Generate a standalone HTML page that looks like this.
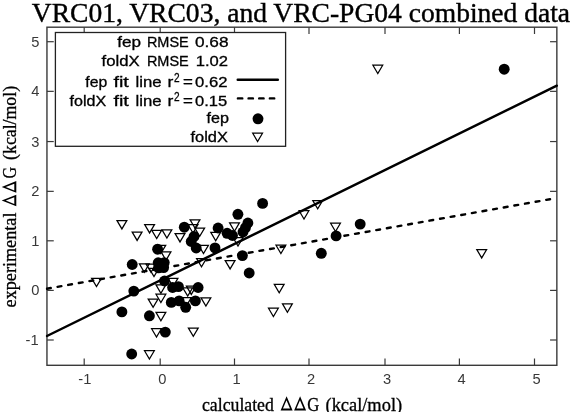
<!DOCTYPE html>
<html><head><meta charset="utf-8"><style>
html,body{margin:0;padding:0;background:#fff;width:575px;height:412px;overflow:hidden}
svg{display:block;will-change:transform}
.s{font-family:"Liberation Sans",sans-serif}
.r{font-family:"Liberation Serif",serif}
</style></head><body>
<svg width="575" height="412" viewBox="0 0 575 412">
<rect x="0" y="0" width="575" height="412" fill="#fff"/>
<text class="r" transform="translate(31.80,21.70) scale(0.9839,1)" font-size="28" fill="#000" stroke="#000" stroke-width="0.4">VRC01, VRC03, and VRC-PG04 combined data</text>
<rect x="46.95" y="27.2" width="509.90000000000003" height="338.1" fill="none" stroke="#3a3a3a" stroke-width="1.4"/>
<line x1="84.2" y1="365.3" x2="84.2" y2="358.5" stroke="#3a3a3a" stroke-width="1.2"/><line x1="84.2" y1="27.2" x2="84.2" y2="34.0" stroke="#3a3a3a" stroke-width="1.2"/><line x1="160.2" y1="365.3" x2="160.2" y2="358.5" stroke="#3a3a3a" stroke-width="1.2"/><line x1="160.2" y1="27.2" x2="160.2" y2="34.0" stroke="#3a3a3a" stroke-width="1.2"/><line x1="234.5" y1="365.3" x2="234.5" y2="358.5" stroke="#3a3a3a" stroke-width="1.2"/><line x1="234.5" y1="27.2" x2="234.5" y2="34.0" stroke="#3a3a3a" stroke-width="1.2"/><line x1="309.0" y1="365.3" x2="309.0" y2="358.5" stroke="#3a3a3a" stroke-width="1.2"/><line x1="309.0" y1="27.2" x2="309.0" y2="34.0" stroke="#3a3a3a" stroke-width="1.2"/><line x1="385.0" y1="365.3" x2="385.0" y2="358.5" stroke="#3a3a3a" stroke-width="1.2"/><line x1="385.0" y1="27.2" x2="385.0" y2="34.0" stroke="#3a3a3a" stroke-width="1.2"/><line x1="459.4" y1="365.3" x2="459.4" y2="358.5" stroke="#3a3a3a" stroke-width="1.2"/><line x1="459.4" y1="27.2" x2="459.4" y2="34.0" stroke="#3a3a3a" stroke-width="1.2"/><line x1="534.5" y1="365.3" x2="534.5" y2="358.5" stroke="#3a3a3a" stroke-width="1.2"/><line x1="534.5" y1="27.2" x2="534.5" y2="34.0" stroke="#3a3a3a" stroke-width="1.2"/><line x1="46.95" y1="340.0" x2="53.75" y2="340.0" stroke="#3a3a3a" stroke-width="1.2"/><line x1="556.85" y1="340.0" x2="550.0500000000001" y2="340.0" stroke="#3a3a3a" stroke-width="1.2"/><line x1="46.95" y1="290.4" x2="53.75" y2="290.4" stroke="#3a3a3a" stroke-width="1.2"/><line x1="556.85" y1="290.4" x2="550.0500000000001" y2="290.4" stroke="#3a3a3a" stroke-width="1.2"/><line x1="46.95" y1="240.8" x2="53.75" y2="240.8" stroke="#3a3a3a" stroke-width="1.2"/><line x1="556.85" y1="240.8" x2="550.0500000000001" y2="240.8" stroke="#3a3a3a" stroke-width="1.2"/><line x1="46.95" y1="191.35" x2="53.75" y2="191.35" stroke="#3a3a3a" stroke-width="1.2"/><line x1="556.85" y1="191.35" x2="550.0500000000001" y2="191.35" stroke="#3a3a3a" stroke-width="1.2"/><line x1="46.95" y1="141.55" x2="53.75" y2="141.55" stroke="#3a3a3a" stroke-width="1.2"/><line x1="556.85" y1="141.55" x2="550.0500000000001" y2="141.55" stroke="#3a3a3a" stroke-width="1.2"/><line x1="46.95" y1="91.35" x2="53.75" y2="91.35" stroke="#3a3a3a" stroke-width="1.2"/><line x1="556.85" y1="91.35" x2="550.0500000000001" y2="91.35" stroke="#3a3a3a" stroke-width="1.2"/><line x1="46.95" y1="41.7" x2="53.75" y2="41.7" stroke="#3a3a3a" stroke-width="1.2"/><line x1="556.85" y1="41.7" x2="550.0500000000001" y2="41.7" stroke="#3a3a3a" stroke-width="1.2"/>
<text class="s" transform="translate(78.36,383.70) scale(1.0500,1)" font-size="14" fill="#383838">-1</text><text class="s" transform="translate(158.32,383.70) scale(1.0500,1)" font-size="14" fill="#383838">0</text><text class="s" transform="translate(232.62,383.70) scale(1.0500,1)" font-size="14" fill="#383838">1</text><text class="s" transform="translate(307.12,383.70) scale(1.0500,1)" font-size="14" fill="#383838">2</text><text class="s" transform="translate(383.12,383.70) scale(1.0500,1)" font-size="14" fill="#383838">3</text><text class="s" transform="translate(457.52,383.70) scale(1.0500,1)" font-size="14" fill="#383838">4</text><text class="s" transform="translate(532.62,383.70) scale(1.0500,1)" font-size="14" fill="#383838">5</text><text class="s" transform="translate(25.52,345.00) scale(1.0500,1)" font-size="14" fill="#383838">-1</text><text class="s" transform="translate(31.24,295.40) scale(1.0500,1)" font-size="14" fill="#383838">0</text><text class="s" transform="translate(31.24,245.80) scale(1.0500,1)" font-size="14" fill="#383838">1</text><text class="s" transform="translate(31.24,196.35) scale(1.0500,1)" font-size="14" fill="#383838">2</text><text class="s" transform="translate(31.24,146.55) scale(1.0500,1)" font-size="14" fill="#383838">3</text><text class="s" transform="translate(31.24,96.35) scale(1.0500,1)" font-size="14" fill="#383838">4</text><text class="s" transform="translate(31.24,46.70) scale(1.0500,1)" font-size="14" fill="#383838">5</text>
<text class="r" transform="translate(202.00,410.60) scale(0.9857,1)" font-size="18" fill="#000" stroke="#000" stroke-width="0.3">calculated</text><path d="M286.60,396.30L280.60,410.40L292.60,410.40ZM286.49,400.13L290.01,408.40L282.97,408.40Z" fill="#000" fill-rule="evenodd"/><path d="M300.10,396.30L294.10,410.40L306.10,410.40ZM299.99,400.13L303.51,408.40L296.47,408.40Z" fill="#000" fill-rule="evenodd"/><text class="r" transform="translate(307.30,410.60) scale(0.9304,1)" font-size="18" fill="#000" stroke="#000" stroke-width="0.3">G</text><text class="r" transform="translate(325.50,410.60) scale(1.0231,1)" font-size="18" fill="#000" stroke="#000" stroke-width="0.3">(kcal/mol)</text>
<g transform="translate(15.6,0) rotate(-90)"><text class="r" transform="translate(-307.40,0.00) scale(1.0100,1)" font-size="18" fill="#000" stroke="#000" stroke-width="0.3">experimental</text><path d="M-200.50,-13.90L-206.30,0.70L-194.70,0.70ZM-200.61,-9.84L-197.22,-1.30L-204.00,-1.30Z" fill="#000" fill-rule="evenodd"/><path d="M-186.95,-13.90L-192.80,0.70L-181.10,0.70ZM-187.06,-9.87L-183.63,-1.30L-190.49,-1.30Z" fill="#000" fill-rule="evenodd"/><text class="r" transform="translate(-178.60,0.00) scale(0.8920,1)" font-size="18" fill="#000" stroke="#000" stroke-width="0.3">G</text><text class="r" transform="translate(-159.90,0.00) scale(0.9884,1)" font-size="18" fill="#000" stroke="#000" stroke-width="0.3">(kcal/mol)</text></g>
<clipPath id="c"><rect x="45.650000000000006" y="27.2" width="512.5" height="338.1"/></clipPath>
<g clip-path="url(#c)"><line x1="46.95" y1="336.0" x2="556.85" y2="85.7" stroke="#000" stroke-width="2.5" stroke-linecap="round"/><line x1="46.95" y1="288.7" x2="556.85" y2="198.0" stroke="#000" stroke-width="2.4" stroke-dasharray="3.86 6.93" stroke-dashoffset="0" stroke-linecap="round"/></g>
<circle cx="504.2" cy="69.2" r="5.45" fill="#000"/><circle cx="262.6" cy="203.4" r="5.45" fill="#000"/><circle cx="237.9" cy="214.3" r="5.45" fill="#000"/><circle cx="247.9" cy="223.0" r="5.45" fill="#000"/><circle cx="245.5" cy="227.6" r="5.45" fill="#000"/><circle cx="243.0" cy="232.0" r="5.45" fill="#000"/><circle cx="232.5" cy="235.5" r="5.45" fill="#000"/><circle cx="227.1" cy="233.3" r="5.45" fill="#000"/><circle cx="218.1" cy="228" r="5.45" fill="#000"/><circle cx="184.3" cy="227.2" r="5.45" fill="#000"/><circle cx="194" cy="236.5" r="5.45" fill="#000"/><circle cx="191.2" cy="241.5" r="5.45" fill="#000"/><circle cx="196.2" cy="248" r="5.45" fill="#000"/><circle cx="215.0" cy="247.9" r="5.45" fill="#000"/><circle cx="242.4" cy="255.6" r="5.45" fill="#000"/><circle cx="249.2" cy="273" r="5.45" fill="#000"/><circle cx="157.6" cy="249.2" r="5.45" fill="#000"/><circle cx="158.2" cy="262.8" r="5.45" fill="#000"/><circle cx="164.2" cy="262.6" r="5.45" fill="#000"/><circle cx="158.6" cy="267.8" r="5.45" fill="#000"/><circle cx="163.6" cy="267.6" r="5.45" fill="#000"/><circle cx="132.2" cy="264.5" r="5.45" fill="#000"/><circle cx="133.8" cy="291.1" r="5.45" fill="#000"/><circle cx="164.5" cy="281" r="5.45" fill="#000"/><circle cx="172.6" cy="287.5" r="5.45" fill="#000"/><circle cx="178.4" cy="286.6" r="5.45" fill="#000"/><circle cx="198.1" cy="287.5" r="5.45" fill="#000"/><circle cx="171.3" cy="302.4" r="5.45" fill="#000"/><circle cx="179.1" cy="300.9" r="5.45" fill="#000"/><circle cx="185.7" cy="307.3" r="5.45" fill="#000"/><circle cx="195.4" cy="300.9" r="5.45" fill="#000"/><circle cx="121.9" cy="311.9" r="5.45" fill="#000"/><circle cx="149.4" cy="315.8" r="5.45" fill="#000"/><circle cx="165.3" cy="332.1" r="5.45" fill="#000"/><circle cx="131.7" cy="354" r="5.45" fill="#000"/><circle cx="360.2" cy="224.1" r="5.45" fill="#000"/><circle cx="336.1" cy="235.9" r="5.45" fill="#000"/><circle cx="321.3" cy="253.3" r="5.45" fill="#000"/>
<path d="M372.90,65.20L382.70,65.20L377.80,73.50Z" fill="none" stroke="#000" stroke-width="1.25" stroke-linejoin="miter"/><path d="M476.80,249.60L486.60,249.60L481.70,257.90Z" fill="none" stroke="#000" stroke-width="1.25" stroke-linejoin="miter"/><path d="M117.00,220.60L126.80,220.60L121.90,228.90Z" fill="none" stroke="#000" stroke-width="1.25" stroke-linejoin="miter"/><path d="M132.20,232.10L142.00,232.10L137.10,240.40Z" fill="none" stroke="#000" stroke-width="1.25" stroke-linejoin="miter"/><path d="M144.70,224.60L154.50,224.60L149.60,232.90Z" fill="none" stroke="#000" stroke-width="1.25" stroke-linejoin="miter"/><path d="M151.80,230.30L161.60,230.30L156.70,238.60Z" fill="none" stroke="#000" stroke-width="1.25" stroke-linejoin="miter"/><path d="M162.00,229.80L171.80,229.80L166.90,238.10Z" fill="none" stroke="#000" stroke-width="1.25" stroke-linejoin="miter"/><path d="M175.10,233.60L184.90,233.60L180.00,241.90Z" fill="none" stroke="#000" stroke-width="1.25" stroke-linejoin="miter"/><path d="M190.10,219.80L199.90,219.80L195.00,228.10Z" fill="none" stroke="#000" stroke-width="1.25" stroke-linejoin="miter"/><path d="M194.80,228.00L204.60,228.00L199.70,236.30Z" fill="none" stroke="#000" stroke-width="1.25" stroke-linejoin="miter"/><path d="M210.80,232.40L220.60,232.40L215.70,240.70Z" fill="none" stroke="#000" stroke-width="1.25" stroke-linejoin="miter"/><path d="M229.60,222.90L239.40,222.90L234.50,231.20Z" fill="none" stroke="#000" stroke-width="1.25" stroke-linejoin="miter"/><path d="M233.10,237.70L242.90,237.70L238.00,246.00Z" fill="none" stroke="#000" stroke-width="1.25" stroke-linejoin="miter"/><path d="M198.60,245.30L208.40,245.30L203.50,253.60Z" fill="none" stroke="#000" stroke-width="1.25" stroke-linejoin="miter"/><path d="M196.60,258.50L206.40,258.50L201.50,266.80Z" fill="none" stroke="#000" stroke-width="1.25" stroke-linejoin="miter"/><path d="M161.10,251.90L170.90,251.90L166.00,260.20Z" fill="none" stroke="#000" stroke-width="1.25" stroke-linejoin="miter"/><path d="M155.90,245.30L165.70,245.30L160.80,253.60Z" fill="none" stroke="#000" stroke-width="1.25" stroke-linejoin="miter"/><path d="M146.10,264.00L155.90,264.00L151.00,272.30Z" fill="none" stroke="#000" stroke-width="1.25" stroke-linejoin="miter"/><path d="M139.40,263.90L149.20,263.90L144.30,272.20Z" fill="none" stroke="#000" stroke-width="1.25" stroke-linejoin="miter"/><path d="M149.10,268.30L158.90,268.30L154.00,276.60Z" fill="none" stroke="#000" stroke-width="1.25" stroke-linejoin="miter"/><path d="M91.60,278.30L101.40,278.30L96.50,286.60Z" fill="none" stroke="#000" stroke-width="1.25" stroke-linejoin="miter"/><path d="M168.10,278.30L177.90,278.30L173.00,286.60Z" fill="none" stroke="#000" stroke-width="1.25" stroke-linejoin="miter"/><path d="M156.00,284.90L165.80,284.90L160.90,293.20Z" fill="none" stroke="#000" stroke-width="1.25" stroke-linejoin="miter"/><path d="M156.00,294.20L165.80,294.20L160.90,302.50Z" fill="none" stroke="#000" stroke-width="1.25" stroke-linejoin="miter"/><path d="M148.20,299.00L158.00,299.00L153.10,307.30Z" fill="none" stroke="#000" stroke-width="1.25" stroke-linejoin="miter"/><path d="M182.80,287.80L192.60,287.80L187.70,296.10Z" fill="none" stroke="#000" stroke-width="1.25" stroke-linejoin="miter"/><path d="M186.40,286.10L196.20,286.10L191.30,294.40Z" fill="none" stroke="#000" stroke-width="1.25" stroke-linejoin="miter"/><path d="M181.50,297.60L191.30,297.60L186.40,305.90Z" fill="none" stroke="#000" stroke-width="1.25" stroke-linejoin="miter"/><path d="M201.00,297.80L210.80,297.80L205.90,306.10Z" fill="none" stroke="#000" stroke-width="1.25" stroke-linejoin="miter"/><path d="M156.00,312.40L165.80,312.40L160.90,320.70Z" fill="none" stroke="#000" stroke-width="1.25" stroke-linejoin="miter"/><path d="M151.60,328.70L161.40,328.70L156.50,337.00Z" fill="none" stroke="#000" stroke-width="1.25" stroke-linejoin="miter"/><path d="M188.40,328.00L198.20,328.00L193.30,336.30Z" fill="none" stroke="#000" stroke-width="1.25" stroke-linejoin="miter"/><path d="M144.50,350.70L154.30,350.70L149.40,359.00Z" fill="none" stroke="#000" stroke-width="1.25" stroke-linejoin="miter"/><path d="M299.10,210.70L308.90,210.70L304.00,219.00Z" fill="none" stroke="#000" stroke-width="1.25" stroke-linejoin="miter"/><path d="M312.80,200.50L322.60,200.50L317.70,208.80Z" fill="none" stroke="#000" stroke-width="1.25" stroke-linejoin="miter"/><path d="M330.60,223.20L340.40,223.20L335.50,231.50Z" fill="none" stroke="#000" stroke-width="1.25" stroke-linejoin="miter"/><path d="M276.00,245.20L285.80,245.20L280.90,253.50Z" fill="none" stroke="#000" stroke-width="1.25" stroke-linejoin="miter"/><path d="M188.10,224.70L197.90,224.70L193.00,233.00Z" fill="none" stroke="#000" stroke-width="1.25" stroke-linejoin="miter"/><path d="M274.30,284.40L284.10,284.40L279.20,292.70Z" fill="none" stroke="#000" stroke-width="1.25" stroke-linejoin="miter"/><path d="M282.50,303.90L292.30,303.90L287.40,312.20Z" fill="none" stroke="#000" stroke-width="1.25" stroke-linejoin="miter"/><path d="M268.50,308.20L278.30,308.20L273.40,316.50Z" fill="none" stroke="#000" stroke-width="1.25" stroke-linejoin="miter"/><path d="M225.20,260.60L235.00,260.60L230.10,268.90Z" fill="none" stroke="#000" stroke-width="1.25" stroke-linejoin="miter"/>
<rect x="55.4" y="32.5" width="230.2" height="113.8" fill="#fff" stroke="#222" stroke-width="1.3"/>
<text class="s" transform="translate(117.20,47.40) scale(1.1890,1)" font-size="14.4" fill="#000" stroke="#000" stroke-width="0.3">fep</text><text class="s" transform="translate(146.90,47.40) scale(1.0068,1)" font-size="14.4" fill="#000" stroke="#000" stroke-width="0.3">RMSE</text><text class="s" transform="translate(195.00,47.40) scale(1.1981,1)" font-size="14.4" fill="#000" stroke="#000" stroke-width="0.3">0.68</text><text class="s" transform="translate(101.50,65.90) scale(1.1635,1)" font-size="14.4" fill="#000" stroke="#000" stroke-width="0.3">foldX</text><text class="s" transform="translate(146.90,65.90) scale(1.0068,1)" font-size="14.4" fill="#000" stroke="#000" stroke-width="0.3">RMSE</text><text class="s" transform="translate(195.80,65.90) scale(1.1518,1)" font-size="14.4" fill="#000" stroke="#000" stroke-width="0.3">1.02</text><text class="s" transform="translate(85.30,87.40) scale(1.0941,1)" font-size="14.4" fill="#000" stroke="#000" stroke-width="0.3">fep</text><text class="s" transform="translate(113.40,87.40) scale(1.3844,1)" font-size="14.4" fill="#000" stroke="#000" stroke-width="0.3">fit</text><text class="s" transform="translate(135.60,87.40) scale(1.1637,1)" font-size="14.4" fill="#000" stroke="#000" stroke-width="0.3">line</text><text class="s" transform="translate(167.60,87.40) scale(1.2114,1)" font-size="14.4" fill="#000" stroke="#000" stroke-width="0.3">r</text><text class="s" transform="translate(182.90,87.40) scale(1.1752,1)" font-size="14.4" fill="#000" stroke="#000" stroke-width="0.3">=</text><text class="s" transform="translate(195.00,87.40) scale(1.1589,1)" font-size="14.4" fill="#000" stroke="#000" stroke-width="0.3">0.62</text><text class="s" transform="translate(69.50,106.00) scale(1.1178,1)" font-size="14.4" fill="#000" stroke="#000" stroke-width="0.3">foldX</text><text class="s" transform="translate(113.40,106.00) scale(1.3844,1)" font-size="14.4" fill="#000" stroke="#000" stroke-width="0.3">fit</text><text class="s" transform="translate(135.60,106.00) scale(1.1637,1)" font-size="14.4" fill="#000" stroke="#000" stroke-width="0.3">line</text><text class="s" transform="translate(167.60,106.00) scale(1.2114,1)" font-size="14.4" fill="#000" stroke="#000" stroke-width="0.3">r</text><text class="s" transform="translate(182.90,106.00) scale(1.1752,1)" font-size="14.4" fill="#000" stroke="#000" stroke-width="0.3">=</text><text class="s" transform="translate(195.00,106.00) scale(1.1482,1)" font-size="14.4" fill="#000" stroke="#000" stroke-width="0.3">0.15</text><text class="s" transform="translate(206.60,123.20) scale(1.1191,1)" font-size="14.4" fill="#000" stroke="#000" stroke-width="0.3">fep</text><text class="s" transform="translate(190.50,141.70) scale(1.1391,1)" font-size="14.4" fill="#000" stroke="#000" stroke-width="0.3">foldX</text><text class="s" transform="translate(174.10,82.00) scale(0.8408,1)" font-size="12.0" fill="#000" stroke="#000" stroke-width="0.3">2</text><text class="s" transform="translate(174.10,100.90) scale(0.8408,1)" font-size="12.0" fill="#000" stroke="#000" stroke-width="0.3">2</text>
<line x1="237.7" y1="79.7" x2="277.85" y2="79.7" stroke="#000" stroke-width="2.4" stroke-linecap="round"/><line x1="237.9" y1="98.4" x2="275.0" y2="98.4" stroke="#000" stroke-width="2.4" stroke-dasharray="4.4 6.25" stroke-linecap="round"/><circle cx="258" cy="118.8" r="5.45" fill="#000"/><path d="M252.70,133.20L262.50,133.20L257.60,141.50Z" fill="none" stroke="#000" stroke-width="1.25" stroke-linejoin="miter"/>
</svg>
</body></html>
